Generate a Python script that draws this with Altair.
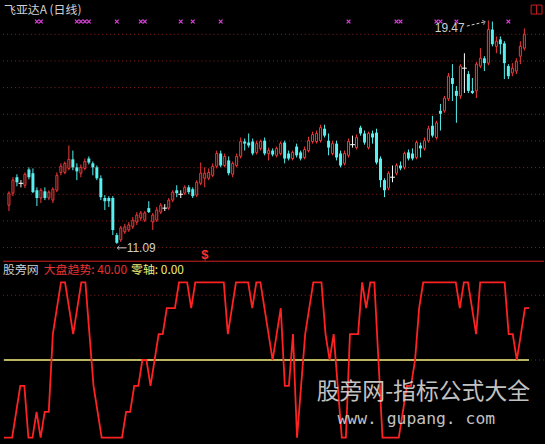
import altair as alt
import pandas as pd

# ---- daily bars of 飞亚达A ----
opens = [12.54, 12.99, 13.59, 13.36, 13.29, 13.88, 13.74, 13.10, 12.81, 13.06,
         12.81, 12.73, 13.10, 13.77, 13.77, 13.92, 14.26, 13.96, 13.74, 13.92,
         14.29, 14.11, 13.96, 13.55, 12.81, 12.81, 12.81, 11.42, 11.24, 11.54,
         11.61, 11.73, 11.91, 12.06, 11.98, 12.43, 11.91, 11.98, 12.28, 12.43,
         12.43, 12.73, 13.10, 12.95, 12.99, 13.21, 13.14, 12.92, 13.36, 13.55,
         13.55, 13.66, 14.00, 14.48, 14.03, 14.22, 13.70, 14.03, 14.37, 14.93,
         14.89, 14.93, 14.52, 14.67, 14.96, 14.48, 14.59, 14.41, 14.48, 14.89,
         14.48, 14.29, 14.74, 14.52, 14.33, 14.59, 14.93, 14.93, 14.96, 15.41,
         14.96, 14.48, 14.85, 14.48, 14.11, 14.41, 14.81, 14.70, 15.45, 15.23,
         14.70, 15.23, 15.26, 14.29, 13.48, 13.18, 13.59, 13.74, 14.03, 13.96,
         14.52, 14.48, 14.33, 14.78, 14.67, 14.96, 15.52, 15.08, 16.08, 16.08,
         16.53, 17.31, 16.83, 16.64, 17.68, 17.46, 16.83, 16.83, 17.76, 18.05,
         17.87, 19.13, 18.50, 18.76, 18.61, 17.76, 17.50, 17.57, 18.13, 18.43]
highs = [13.06, 13.59, 13.70, 13.48, 13.77, 13.96, 13.92, 13.21, 13.18, 13.21,
         13.10, 13.21, 13.77, 14.11, 14.18, 14.78, 14.59, 14.11, 14.07, 14.29,
         14.37, 14.18, 14.03, 13.66, 12.92, 12.88, 12.88, 11.50, 11.76, 11.84,
         11.91, 12.10, 12.28, 12.32, 12.32, 12.69, 12.25, 12.47, 12.62, 12.58,
         12.81, 13.10, 13.29, 13.10, 13.29, 13.29, 13.21, 13.48, 14.14, 13.96,
         13.92, 14.11, 14.59, 14.59, 14.48, 14.37, 14.18, 14.48, 15.08, 15.04,
         15.23, 15.04, 14.96, 15.00, 15.08, 14.70, 14.67, 14.74, 14.93, 14.96,
         14.59, 14.59, 14.85, 14.59, 14.74, 15.11, 15.30, 15.34, 15.56, 15.56,
         15.23, 14.96, 14.96, 14.59, 14.59, 15.04, 15.15, 15.19, 15.52, 15.34,
         15.30, 15.34, 15.41, 14.37, 13.55, 13.81, 14.03, 14.11, 14.18, 14.55,
         14.63, 14.67, 14.96, 14.89, 15.08, 15.52, 15.89, 15.71, 16.34, 16.64,
         17.50, 17.83, 17.01, 17.83, 18.24, 17.57, 17.31, 17.91, 18.43, 18.13,
         19.47, 19.43, 18.87, 18.87, 18.69, 17.83, 17.87, 18.05, 18.69, 19.17]
lows = [12.32, 12.88, 13.25, 13.21, 13.18, 13.51, 12.99, 12.51, 12.62, 12.73,
        12.73, 12.62, 13.03, 13.66, 13.70, 13.85, 13.85, 13.48, 13.59, 13.85,
        14.07, 13.66, 13.48, 12.73, 12.36, 12.47, 11.42, 11.09, 11.16, 11.46,
        11.54, 11.65, 11.80, 11.95, 11.91, 12.25, 11.61, 11.91, 12.21, 12.32,
        12.36, 12.65, 12.84, 12.81, 12.92, 12.95, 12.81, 12.84, 13.29, 13.21,
        13.48, 13.59, 13.92, 13.96, 13.96, 13.66, 13.59, 13.96, 14.29, 14.59,
        14.70, 14.41, 14.44, 14.59, 14.41, 14.22, 14.37, 14.33, 14.41, 14.11,
        14.22, 14.22, 14.33, 14.22, 14.26, 14.52, 14.85, 14.85, 14.89, 15.08,
        14.41, 14.41, 14.22, 13.96, 14.03, 14.33, 14.70, 14.63, 15.15, 14.81,
        14.63, 14.85, 14.07, 13.21, 12.84, 13.10, 13.40, 13.66, 13.85, 13.88,
        14.22, 14.22, 14.26, 14.33, 14.59, 14.89, 15.08, 15.00, 15.34, 16.01,
        16.45, 16.45, 15.63, 16.53, 16.75, 16.75, 16.71, 16.56, 17.68, 17.57,
        17.79, 18.50, 18.24, 18.20, 17.27, 17.27, 17.38, 17.46, 17.83, 18.34]
closes = [12.99, 13.48, 13.40, 13.36, 13.70, 13.59, 13.03, 12.81, 13.10, 12.81,
          13.03, 13.14, 13.66, 14.00, 14.11, 14.26, 13.96, 13.81, 13.96, 14.18,
          14.14, 13.96, 13.55, 12.84, 12.69, 12.69, 11.61, 11.13, 11.69, 11.73,
          11.80, 11.98, 12.17, 12.25, 12.25, 12.28, 12.17, 12.36, 12.54, 12.43,
          12.73, 13.03, 12.99, 12.95, 13.21, 13.03, 12.88, 13.40, 13.74, 13.74,
          13.77, 14.00, 14.48, 14.03, 14.37, 13.74, 14.11, 14.37, 14.93, 14.85,
          14.78, 14.48, 14.85, 14.93, 14.48, 14.59, 14.44, 14.67, 14.85, 14.29,
          14.29, 14.52, 14.41, 14.29, 14.63, 14.96, 15.19, 15.23, 15.45, 15.15,
          14.70, 14.85, 14.33, 14.03, 14.48, 14.93, 14.81, 15.08, 15.23, 14.89,
          15.23, 15.08, 14.14, 13.48, 13.10, 13.74, 13.59, 14.03, 13.92, 14.48,
          14.29, 14.29, 14.89, 14.67, 14.96, 15.41, 15.15, 15.63, 15.97, 16.56,
          17.38, 17.09, 16.64, 17.76, 17.68, 16.83, 16.75, 17.83, 18.05, 17.87,
          19.13, 18.58, 18.69, 18.58, 17.87, 17.38, 17.68, 17.94, 18.50, 18.95]

# ---- 大盘趋势 oscillator ----
trend = [-60, -60, -60, -40, -20, -20, -60, -60, -40, -60,
         -40, -40, 20, 40, 60, 60, 40, 20, 40, 60,
         60, 20, -20, -40, -60, -60, -60, -60, -60, -60,
         -40, -40, -20, -20, 0, 0, -20, 0, 20, 20,
         40, 40, 40, 60, 60, 60, 40, 60, 60, 60,
         60, 60, 60, 60, 60, 20, 40, 60, 60, 60,
         60, 40, 60, 60, 40, 20, 0, 20, 40, -20,
         -20, 20, -60, -20, 20, 40, 60, 60, 60, 20,
         0, 20, -20, -60, -60, 20, 20, 20, 60, 40,
         60, 60, 0, -60, -60, -60, -60, -60, -40, -20,
         -20, 0, 40, 60, 60, 60, 60, 60, 60, 60,
         60, 60, 40, 60, 60, 40, 20, 60, 60, 60,
         60, 60, 60, 60, 20, 20, 0, 20, 40, 40]
zero_axis = 0.0

# bars carrying a signal mark along the top edge
signal_days = [7, 8, 17, 18, 19, 20, 27, 33, 34, 43, 46, 53, 85, 97, 98, 107, 108, 112, 125]
dollar_day = [49]
price_grid = [10.95, 11.95, 12.95, 13.95, 14.95, 15.95, 16.95, 17.95, 18.95]
osc_grid = [50, 0]

UP = "#f23a3a"
DOWN = "#58f0f0"
GRID = "#8e2020"
CJK = "Noto Sans CJK SC"
LATIN = "Liberation Sans"

W, H_TOP, H_BOT = 545, 262, 182

n = len(opens)
bars = pd.DataFrame({"i": list(range(n)), "o": opens, "h": highs, "l": lows, "c": closes})
bars["kind"] = ["up" if c > o else ("down" if c < o else "flat") for o, c in zip(opens, closes)]

x_scale = alt.Scale(domain=[-0.25, 132.68], nice=False, zero=False)
p_scale = alt.Scale(domain=[10.42, 20.177], nice=False, zero=False)
X = alt.X("i:Q", scale=x_scale, axis=None)

one = pd.DataFrame({"k": [0]})

# ---------- price panel ----------
grid_top = alt.Chart(pd.DataFrame({"p": price_grid})).mark_rule(
    color=GRID, strokeDash=[1, 3], strokeWidth=1
).encode(y=alt.Y("p:Q", scale=p_scale, axis=None))

separator = alt.Chart(one).mark_rule(color="#d42020", strokeWidth=1).encode(
    y=alt.value(H_TOP - 0.5)
)

base = alt.Chart(bars)
wicks = base.mark_rule(strokeWidth=1).encode(
    x=X,
    y=alt.Y("l:Q", scale=p_scale, axis=None),
    y2="h:Q",
    color=alt.Color("kind:N", scale=alt.Scale(domain=["up", "down", "flat"],
                                              range=[UP, DOWN, "#ffffff"]), legend=None),
)
up_body = base.transform_filter("datum.kind == 'up'").mark_bar(
    size=2, fill="black", stroke=UP, strokeWidth=1
).encode(x=X, y=alt.Y("o:Q", scale=p_scale, axis=None), y2="c:Q")
down_body = base.transform_filter("datum.kind == 'down'").mark_bar(
    size=3, color=DOWN
).encode(x=X, y=alt.Y("o:Q", scale=p_scale, axis=None), y2="c:Q")
doji = base.transform_filter("datum.kind == 'flat'").transform_calculate(
    a="datum.i - 0.6", b="datum.i + 0.6"
).mark_rule(color="#ffffff", strokeWidth=1).encode(
    x=alt.X("a:Q", scale=x_scale, axis=None), x2="b:Q",
    y=alt.Y("o:Q", scale=p_scale, axis=None)
)

# small diagonal crosses for the signal bars
signals = alt.Chart(pd.DataFrame({"i": signal_days})).mark_point(
    shape="M -1 -1 L 1 1 M -1 1 L 1 -1", filled=False, size=14, strokeWidth=1.2,
    color="#e040e0", opacity=1
).encode(x=X, y=alt.value(20))

dollar = alt.Chart(pd.DataFrame({"i": dollar_day})).mark_text(
    text="$", color="#ff3030", fontSize=13, fontWeight="bold", font=LATIN, baseline="middle"
).encode(x=X, y=alt.value(255))

title = alt.Chart(one).mark_text(
    text="飞亚达A (日线)", align="left", baseline="middle", font=CJK, fontSize=12, color="#d0d0d0"
).encode(x=alt.value(1), y=alt.value(8))

hi_i = highs.index(max(highs))
lo_i = lows.index(min(lows))
hi_df = pd.DataFrame({"i": [hi_i], "p": [highs[hi_i]], "t": [f"{highs[hi_i]:.2f}"]})
lo_df = pd.DataFrame({"i": [lo_i], "p": [lows[lo_i]], "t": [f"{lows[lo_i]:.2f}"]})

hi_label = alt.Chart(hi_df).mark_text(
    align="right", baseline="middle", dx=-24, dy=8, font=LATIN, fontSize=12, color="#d0d0d0"
).encode(x=X, y=alt.Y("p:Q", scale=p_scale, axis=None), text="t:N")
hi_arrow = alt.Chart(hi_df).transform_calculate(
    a="datum.i - 5.4", b="datum.i - 0.8", p0="datum.p - 0.21", p1="datum.p - 0.05"
).mark_rule(color="#d0d0d0", strokeDash=[3, 2], strokeWidth=1).encode(
    x=alt.X("a:Q", scale=x_scale, axis=None), x2="b:Q",
    y=alt.Y("p0:Q", scale=p_scale, axis=None), y2="p1:Q"
)
hi_head = alt.Chart(hi_df).transform_calculate(
    a="datum.i - 0.8", p1="datum.p - 0.05"
).mark_point(
    shape="M -1 -1 L 0 0 L -1 1", filled=False, size=24, angle=345, color="#d0d0d0", strokeWidth=1
).encode(x=alt.X("a:Q", scale=x_scale, axis=None), y=alt.Y("p1:Q", scale=p_scale, axis=None))

lo_label = alt.Chart(lo_df).mark_text(
    align="left", baseline="middle", dx=10, dy=4, font=LATIN, fontSize=12, color="#d0d0d0"
).encode(x=X, y=alt.Y("p:Q", scale=p_scale, axis=None), text="t:N")
lo_arrow = alt.Chart(lo_df).transform_calculate(
    a="datum.i + 0.1", b="datum.i + 2.4", q="datum.p - 0.15"
).mark_rule(color="#d0d0d0", strokeWidth=1).encode(
    x=alt.X("a:Q", scale=x_scale, axis=None), x2="b:Q",
    y=alt.Y("q:Q", scale=p_scale, axis=None)
)
lo_head = alt.Chart(lo_df).transform_calculate(
    a="datum.i + 0.1", q="datum.p - 0.15"
).mark_point(
    shape="M 1 -1 L 0 0 L 1 1", filled=False, size=20, color="#d0d0d0", strokeWidth=1
).encode(x=alt.X("a:Q", scale=x_scale, axis=None), y=alt.Y("q:Q", scale=p_scale, axis=None))

icon_box = alt.Chart(one).mark_rect(fill="black", stroke="#c82020", strokeWidth=1).encode(
    x=alt.value(532), x2=alt.value(543), y=alt.value(3.5), y2=alt.value(12.5)
)
icon_bar = alt.Chart(one).mark_rule(color="#c82020", strokeWidth=1).encode(
    x=alt.value(537.5), y=alt.value(3.5), y2=alt.value(12.5)
)

upper = alt.layer(
    grid_top, separator, wicks, up_body, down_body, doji, signals, dollar,
    title, hi_label, hi_arrow, hi_head, lo_label, lo_arrow, lo_head, icon_box, icon_bar
).properties(width=W, height=H_TOP)

# ---------- oscillator panel ----------
osc = pd.DataFrame({"i": list(range(n)), "trend": trend, "zero": [zero_axis] * n})
o_scale = alt.Scale(domain=[-63.6, 75.9], nice=False, zero=False)

grid_bot = alt.Chart(pd.DataFrame({"v": osc_grid})).mark_rule(
    color=GRID, strokeDash=[1, 3], strokeWidth=1
).encode(y=alt.Y("v:Q", scale=o_scale, axis=None))
zero_line = alt.Chart(osc).mark_line(color="#f4f080", strokeWidth=1.3).encode(
    x=X, y=alt.Y("zero:Q", scale=o_scale, axis=None)
)
trend_line = alt.Chart(osc).mark_line(color="#ff2222", strokeWidth=1.8).encode(
    x=X, y=alt.Y("trend:Q", scale=o_scale, axis=None)
)

hdr_name = alt.Chart(one).mark_text(
    text="股旁网", align="left", baseline="middle", font=CJK, fontSize=12, color="#d0d0d0"
).encode(x=alt.value(0), y=alt.value(8))
hdr_trend = alt.Chart(one).mark_text(
    text=f"大盘趋势: {trend[-1]:.2f}", align="left", baseline="middle", font=CJK,
    fontSize=12, color="#e83232"
).encode(x=alt.value(41), y=alt.value(8))
hdr_zero = alt.Chart(one).mark_text(
    text=f"零轴: {zero_axis:.2f}", align="left", baseline="middle", font=CJK,
    fontSize=12, color="#f0ec78"
).encode(x=alt.value(129), y=alt.value(8))

mark_cn = alt.Chart(one).mark_text(
    text="股旁网-指标公式大全", align="left", baseline="middle", font=CJK,
    fontSize=23, color="#d8d8d8", opacity=0.9
).encode(x=alt.value(316), y=alt.value(131))
mark_url = alt.Chart(one).mark_text(
    text="www. gupang. com", align="left", baseline="middle", font="DejaVu Sans Mono",
    fontSize=16.5, color="#d8d8d8", opacity=0.9
).encode(x=alt.value(337), y=alt.value(158))

lower = alt.layer(
    grid_bot, zero_line, trend_line, hdr_name, hdr_trend, hdr_zero, mark_cn, mark_url
).properties(width=W, height=H_BOT)

chart = alt.vconcat(upper, lower, spacing=0).properties(
    padding=0, background="black"
).configure_view(stroke=None).configure_concat(spacing=0)

chart.save("out.html", embed_options={"renderer": "svg", "actions": False})
